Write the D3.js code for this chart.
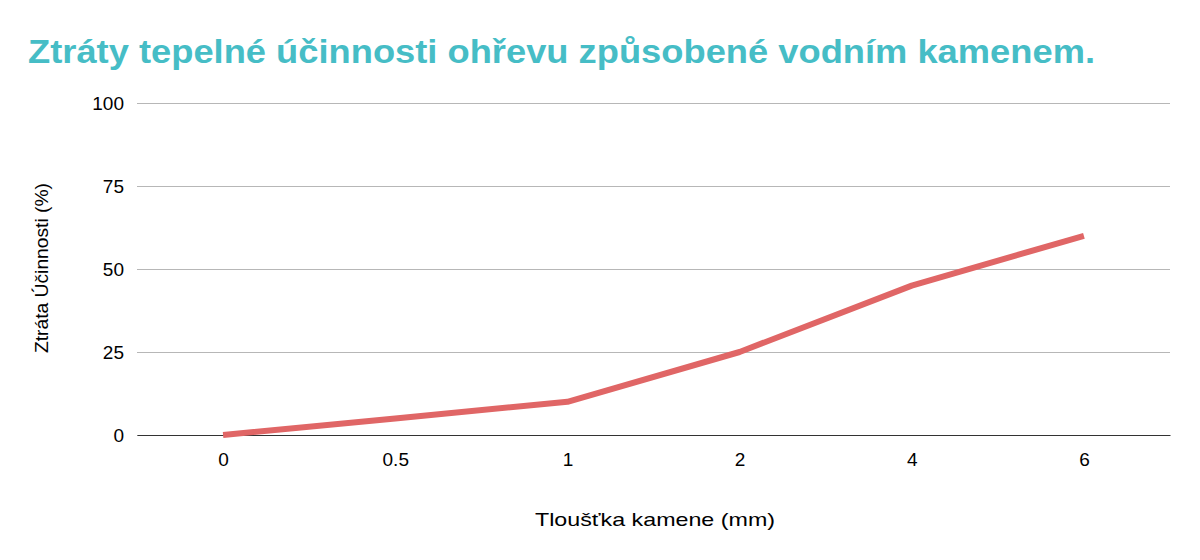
<!DOCTYPE html>
<html><head><meta charset="utf-8">
<script src="https://cdn.jsdelivr.net/npm/d3@7"></script>
<style>body{margin:0;background:#fff}</style></head>
<body><svg id="c" width="1200" height="560"></svg>
<script>
const categories = ["0","0.5","1","2","4","6"];
const lossValues = [0,5,10,25,45,60];
const yTicks = [0,25,50,75,100];

const svg = d3.select("#c");
const font = "Arial, 'Liberation Sans', sans-serif";
const L=137,R=1170,T=103,B=435;
const x = d3.scalePoint().domain(categories).range([L,R]).padding(0.5);
const y = d3.scaleLinear().domain([0,100]).range([B,T]);

svg.append("text").attr("x",28).attr("y",63).text("Ztráty tepelné účinnosti ohřevu způsobené vodním kamenem.")
  .attr("font-family",font).attr("font-weight","bold").attr("font-size",34).attr("fill","#46bdc6")
  .attr("textLength",1067).attr("lengthAdjust","spacingAndGlyphs");

const yg = svg.append("g").attr("transform",`translate(${L},0)`)
  .call(d3.axisLeft(y).tickValues(yTicks).tickSize(-(R-L)).tickPadding(13));
yg.select(".domain").remove();
yg.selectAll("line").attr("stroke","#b7b7b7");
yg.selectAll("text").attr("font-family",font).attr("font-size",19).attr("fill","#000");

const xg = svg.append("g").attr("transform",`translate(0,${B})`)
  .call(d3.axisBottom(x).tickSize(0).tickPadding(18));
xg.select(".domain").attr("stroke","#333");
xg.selectAll("text").attr("font-family",font).attr("font-size",19).attr("fill","#000");

svg.append("path").datum(lossValues)
  .attr("d", d3.line().x((d,i)=>x(categories[i])).y(d=>y(d)))
  .attr("fill","none").attr("stroke","#e06666").attr("stroke-width",6).attr("stroke-linejoin","round");

svg.append("text").attr("x",655).attr("y",526).attr("text-anchor","middle")
  .text("Tloušťka kamene (mm)").attr("font-family",font).attr("font-size",19)
  .attr("textLength",240).attr("lengthAdjust","spacingAndGlyphs");
svg.append("text").attr("transform","translate(48,268) rotate(-90)").attr("text-anchor","middle")
  .text("Ztráta Účinnosti (%)").attr("font-family",font).attr("font-size",19)
  .attr("textLength",170).attr("lengthAdjust","spacingAndGlyphs");
</script></body></html>
